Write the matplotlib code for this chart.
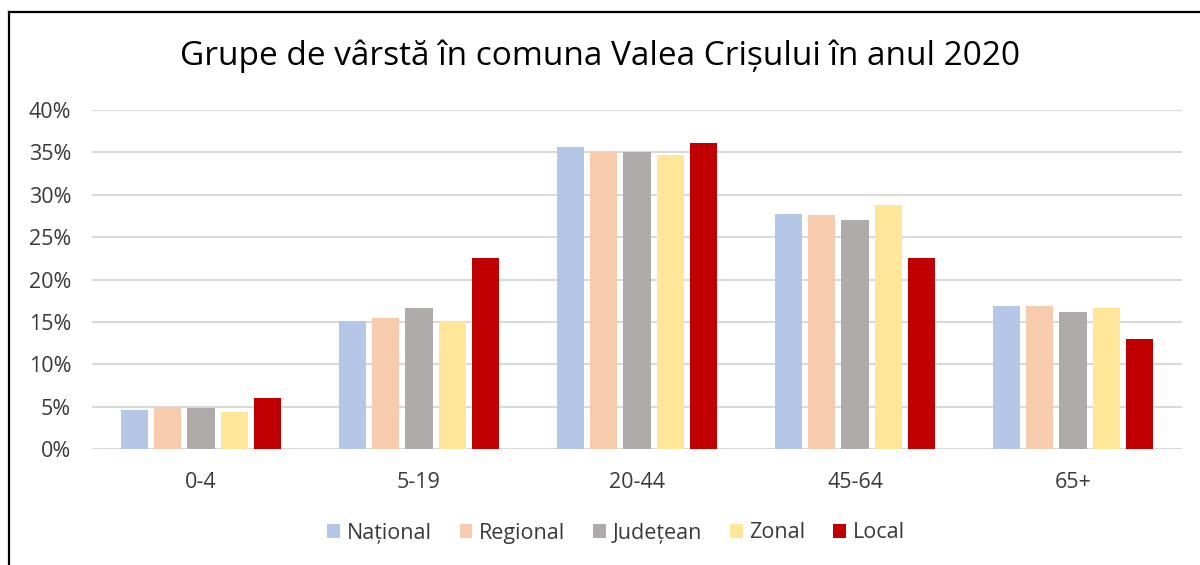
import matplotlib
matplotlib.use("Agg")
import matplotlib.pyplot as plt
import numpy as np
from matplotlib.lines import Line2D
from matplotlib.patches import Patch

plt.rcParams['font.family'] = ['Open Sans', 'DejaVu Sans']

categories = ["0-4", "5-19", "20-44", "45-64", "65+"]
series_names = ["Național", "Regional", "Județean", "Zonal", "Local"]
national = [4.6, 15.1, 35.6, 27.7, 16.9]
regional = [5.0, 15.5, 35.0, 27.6, 16.9]
judetean = [4.9, 16.6, 35.0, 27.0, 16.2]
zonal = [4.4, 15.1, 34.7, 28.8, 16.7]
local = [6.0, 22.5, 36.1, 22.5, 13.0]
yticks = [0, 5, 10, 15, 20, 25, 30, 35, 40]
title = "Grupe de vârstă în comuna Valea Crișului în anul 2020"

series = [national, regional, judetean, zonal, local]
colors = ["#B4C7E7", "#F8CBAD", "#AFABAB", "#FFE699", "#C00000"]

W, H = 1200, 565
fig = plt.figure(figsize=(W / 100, H / 100), dpi=100)
ax = fig.add_axes([92 / W, 1 - 449.3 / H, (1182 - 92) / W, (449.3 - 110) / H])

x = np.arange(len(categories))
slot = 0.153
bw = 0.124
for i, (vals, c) in enumerate(zip(series, colors)):
    ax.bar(x + (i - 2) * slot, vals, width=bw, color=c, zorder=3, label=series_names[i])

ax.set_xlim(-0.5, len(categories) - 0.5)
ax.set_ylim(0, 40)
ax.set_yticks(yticks)
ax.set_yticklabels([f"{v}%" for v in yticks])
ax.set_xticks(x)
ax.set_xticklabels(categories)
ax.grid(axis='y', color='#D9D9D9', linewidth=1.5, zorder=0)
for s in ax.spines.values():
    s.set_visible(False)
ax.tick_params(axis='both', length=0, labelsize=15.5, colors='#3a3a3a')
ax.tick_params(axis='y', pad=15)
ax.tick_params(axis='x', pad=16)

fig.text(0.5, 1 - 56 / H, title, ha='center', va='center', fontsize=24, color='#000000')

handles = [Patch(facecolor=c, edgecolor='none') for c in colors]
fig.legend(handles, series_names, loc='center', bbox_to_anchor=(616 / W, 1 - 533 / H),
           ncol=5, frameon=False, fontsize=15.5, handlelength=0.6, handleheight=0.6,
           handletextpad=0.3, columnspacing=1.3, labelcolor='#3a3a3a')

fig.add_artist(Line2D([8.5 / W, 8.5 / W], [0, 1 - 11.5 / H], transform=fig.transFigure,
                      color='black', linewidth=1.6))
fig.add_artist(Line2D([8.5 / W, 1], [1 - 11.5 / H, 1 - 11.5 / H], transform=fig.transFigure,
                      color='black', linewidth=1.6))

fig.savefig("out.png", dpi=100)
